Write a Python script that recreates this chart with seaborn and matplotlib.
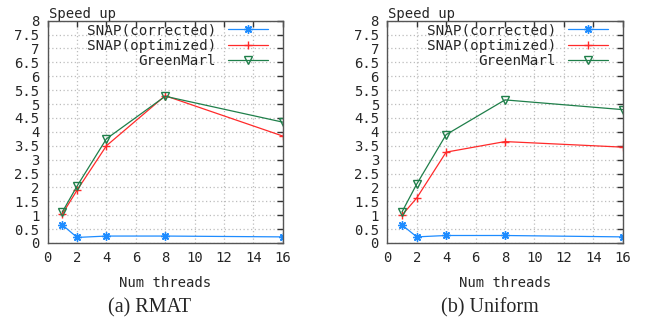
import matplotlib
matplotlib.use("Agg")
import matplotlib.pyplot as plt
import pandas as pd
import seaborn as sns

threads = [1, 2, 4, 8, 16]

# RMAT
rmat_corrected = [0.65, 0.2, 0.25, 0.25, 0.22]
rmat_optimized = [1.05, 1.9, 3.5, 5.3, 3.85]
rmat_greenmarl = [1.12, 2.05, 3.75, 5.28, 4.35]

# Uniform
uni_corrected = [0.65, 0.22, 0.27, 0.27, 0.22]
uni_optimized = [1.0, 1.62, 3.27, 3.65, 3.45]
uni_greenmarl = [1.12, 2.12, 3.9, 5.15, 4.8]

series_names = ["SNAP(corrected)", "SNAP(optimized)", "GreenMarl"]
colors = ["#1e8cff", "#ff2a2a", "#1f7f4a"]
markers = [(8, 2, 0), "+", "v"]

sns.set_style("white")
plt.rcParams["font.family"] = ["DejaVu Sans Mono"]

fig = plt.figure(figsize=(6.49, 3.2), dpi=100)
W, H = 649, 320


def panel(rect, values, caption, cap_x):
    ax = fig.add_axes([rect[0] / W, 1 - rect[3] / H, (rect[2] - rect[0]) / W,
                       (rect[3] - rect[1]) / H])
    for name, vals, c, m in zip(series_names, values, colors, markers):
        df = pd.DataFrame({"threads": threads, "speedup": vals})
        kw = dict(markersize=6, markeredgewidth=1.0)
        if m == "v":
            kw.update(markerfacecolor="none", markeredgecolor=c, markersize=5.5)
        else:
            kw.update(markeredgecolor=c)
        sns.lineplot(data=df, x="threads", y="speedup", ax=ax, color=c,
                     marker=m, linewidth=0.9, label=name, **kw)
    ax.set_xlim(0, 16)
    ax.set_ylim(0, 8)
    ax.set_xticks(range(0, 17, 2))
    ax.set_yticks([i * 0.5 for i in range(17)])
    ax.set_yticklabels([f"{i * 0.5:g}" for i in range(17)])
    ax.grid(True, color="#bdbdbd", linestyle=(0, (1, 2)), linewidth=0.9)
    for s in ax.spines.values():
        s.set_color("#555555")
        s.set_linewidth(1.0)
    ax.tick_params(direction="in", top=True, right=True, length=4, width=1,
                   color="#333333", labelsize=10, pad=6)
    ax.set_xlabel("Num threads", fontsize=10, labelpad=8)
    ax.set_ylabel("")
    ax.text(0.005, 1.0, "Speed up", transform=ax.transAxes, ha="left",
            va="bottom", fontsize=10)
    ax.legend(loc="upper right", bbox_to_anchor=(1 - 15 / 235, 0.988),
              frameon=False, markerfirst=False, fontsize=10.3,
              handlelength=2.8, labelspacing=0.08, borderaxespad=0,
              borderpad=0, handletextpad=0.8)
    fig.text(cap_x / W, 1 - 308 / H, caption, ha="center", va="center",
             fontsize=14.5, family="Liberation Serif")
    return ax


panel((47.7, 20.7, 282.7, 243), [rmat_corrected, rmat_optimized, rmat_greenmarl],
      "(a) RMAT", 150)
panel((387.3, 20.7, 622.7, 243), [uni_corrected, uni_optimized, uni_greenmarl],
      "(b) Uniform", 490)

fig.savefig("out.png", dpi=100)
